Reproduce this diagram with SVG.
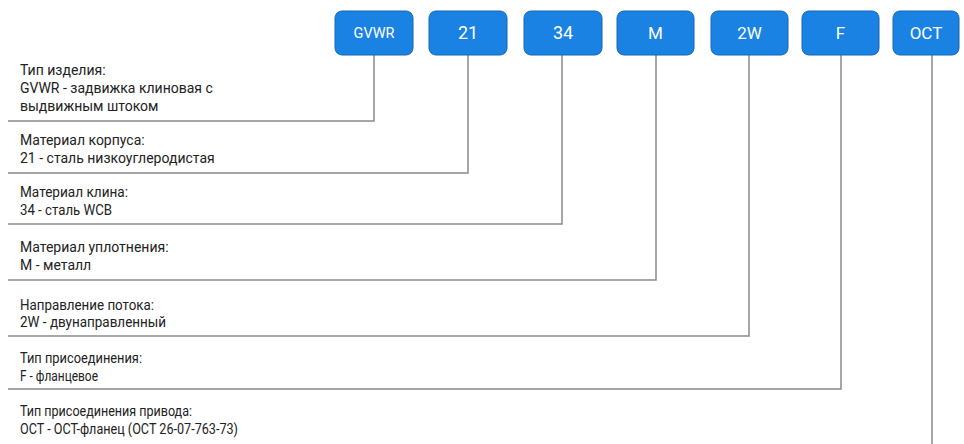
<svg xmlns="http://www.w3.org/2000/svg" width="964" height="444" viewBox="0 0 964 444">
<style>
.box{fill:#1a82e2;stroke:#1466b8;stroke-width:1}
.bt{font-family:Roboto,"Liberation Sans",sans-serif;fill:#ffffff;text-anchor:middle;font-size:17px}
.lb{font-family:Roboto,"Liberation Sans",sans-serif;fill:#222222;font-size:14px}
.ln{fill:none;stroke:#8a8a8a;stroke-width:1.5}
</style>
<rect width="964" height="444" fill="#ffffff"/>
<g id="connectors">
<polyline class="ln" points="374,55 374,121 8,121"/>
<polyline class="ln" points="468,55 468,173 8,173"/>
<polyline class="ln" points="562,55 562,224 8,224"/>
<polyline class="ln" points="656,55 656,280 8,280"/>
<polyline class="ln" points="749,55 749,336 8,336"/>
<polyline class="ln" points="841,55 841,389 8,389"/>
<polyline class="ln" points="932,55 932,444"/>
</g>
<g id="node-gvwr"><rect class="box" x="335" y="11" width="78" height="44" rx="7"/><text class="bt" x="374" y="38" style="font-size:14.5px">GVWR</text></g>
<g id="node-21"><rect class="box" x="429" y="11" width="78" height="44" rx="7"/><text class="bt" x="468" y="39" style="font-size:18px">21</text></g>
<g id="node-34"><rect class="box" x="524" y="11" width="78" height="44" rx="7"/><text class="bt" x="563" y="39" style="font-size:18px">34</text></g>
<g id="node-m"><rect class="box" x="617" y="11" width="77" height="44" rx="7"/><text class="bt" x="655.5" y="39">M</text></g>
<g id="node-2w"><rect class="box" x="711" y="11" width="77" height="44" rx="7"/><text class="bt" x="749.5" y="39">2W</text></g>
<g id="node-f"><rect class="box" x="802" y="11" width="77" height="44" rx="7"/><text class="bt" x="840.5" y="39">F</text></g>
<g id="node-oct"><rect class="box" x="893" y="11" width="66" height="44" rx="7"/><text class="bt" x="926" y="39">OCT</text></g>
<g id="label-1"><text class="lb" x="20" y="75">Тип изделия:</text><text class="lb" x="20" y="93">GVWR - задвижка клиновая с</text><text class="lb" x="20" y="111">выдвижным штоком</text></g>
<g id="label-2"><text class="lb" x="20" y="145">Материал корпуса:</text><text class="lb" x="20" y="163">21 - сталь низкоуглеродистая</text></g>
<g id="label-3"><text class="lb" x="20" y="197" textLength="108" lengthAdjust="spacingAndGlyphs">Материал клина:</text><text class="lb" x="20" y="215" textLength="92" lengthAdjust="spacingAndGlyphs">34 - сталь WCB</text></g>
<g id="label-4"><text class="lb" x="20" y="252">Материал уплотнения:</text><text class="lb" x="20" y="270">M - металл</text></g>
<g id="label-5"><text class="lb" x="20" y="310" textLength="134" lengthAdjust="spacingAndGlyphs">Направление потока:</text><text class="lb" x="20" y="327" textLength="146" lengthAdjust="spacingAndGlyphs">2W - двунаправленный</text></g>
<g id="label-6"><text class="lb" x="20" y="363" textLength="122" lengthAdjust="spacingAndGlyphs">Тип присоединения:</text><text class="lb" x="20" y="381" textLength="78" lengthAdjust="spacingAndGlyphs">F - фланцевое</text></g>
<g id="label-7"><text class="lb" x="20" y="416" textLength="172" lengthAdjust="spacingAndGlyphs">Тип присоединения привода:</text><text class="lb" x="20" y="434" textLength="218" lengthAdjust="spacingAndGlyphs">ОСТ - ОСТ-фланец (ОСТ 26-07-763-73)</text></g>
</svg>
